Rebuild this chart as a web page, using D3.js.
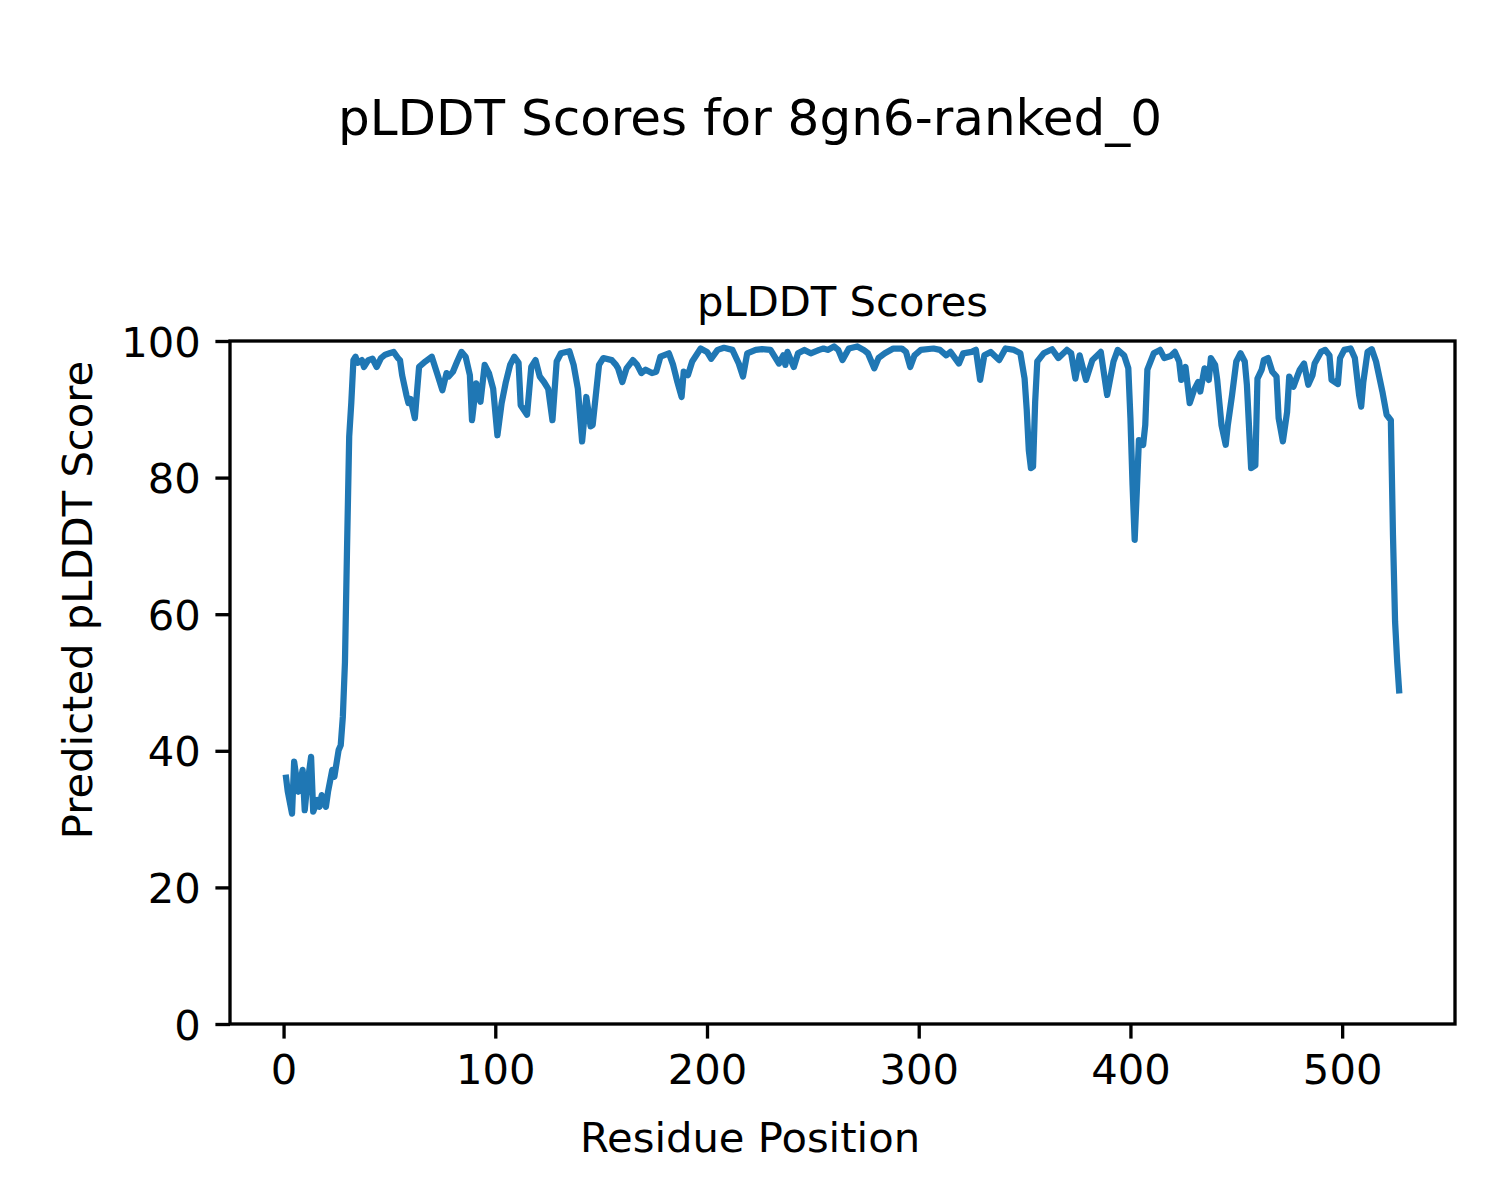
<!DOCTYPE html>
<html><head><meta charset="utf-8">
<script src="https://cdn.jsdelivr.net/npm/d3@7"></script>
<style>body{margin:0;background:#fff}svg{display:block}text{font-family:"DejaVu Sans",sans-serif;fill:#000}</style>
</head><body>
<script>
const residues = [1,2,4,5,7,9,10,11,13,14,16,17,18,20,21,23,24,26,27,28,29,30,31,32,33,34,35,37,38,40,42,44,46,48,50,52,54,55,56,58,59,60,62,64,67,70,73,75,77,78,80,82,84,86,88,89,91,93,95,97,99,101,103,105,107,109,111,112,115,117,119,121,123,125,127,129,131,135,137,139,141,143,145,146,149,151,155,157,158,160,162,165,167,169,171,174,176,178,182,184,186,188,189,191,193,197,200,202,205,208,212,215,217,219,223,226,230,234,236,237,238,241,243,246,249,253,255,257,260,262,264,267,271,274,276,279,281,284,288,292,294,296,298,301,307,310,313,315,319,321,325,327,329,331,334,338,341,345,348,350,351,352,353,354,355,356,359,363,366,370,372,374,376,379,382,386,389,392,394,397,399,400,401,402,403,404,406,407,408,411,414,416,419,421,423,424,426,428,430,432,433,435,437,438,440,441,443,445,446,448,450,452,454,455,457,459,460,462,463,465,467,469,470,472,474,475,477,479,480,482,484,486,487,490,492,494,495,498,499,501,504,506,508,509,510,512,514,516,519,521,523,524,525,526,527];
const scores = [36.5,34,30.8,38.4,34,37.2,31.3,34.5,39.1,31.1,32.8,31.8,33.5,31.8,34,37.2,36.2,40.1,40.8,45,53,70,86,91,97.2,97.7,96.8,97.2,96.2,97.2,97.4,96.2,97.5,98,98.2,98.4,97.5,97.2,95,92.1,90.9,91.5,88.7,96.2,97,97.7,94.8,92.8,95.3,94.8,95.5,97,98.4,97.7,95,88.4,93.8,91.1,96.5,95.3,93,86.2,90.9,94,96.5,97.7,96.8,90.6,89.2,96.2,97.2,94.8,94,93,88.4,97,98.2,98.5,96.5,93,85.3,91.8,87.5,87.7,96.5,97.5,97.2,96.5,96,94,96,97.2,96.5,95.3,95.8,95.3,95.5,97.7,98.2,96.5,94,91.8,95.5,95,97,98.9,98.4,97.4,98.7,99,98.7,96.7,94.8,98.2,98.7,98.8,98.7,96.7,97.9,96.5,98.4,96.2,98.2,98.7,98.2,98.7,98.9,98.7,99.2,98.7,97.2,98.9,99.2,98.7,98.2,96,97.5,98.2,98.9,98.9,98.4,96.2,97.9,98.7,98.9,98.7,97.9,98.4,96.7,98.2,98.4,98.7,94.3,97.9,98.4,97.2,98.9,98.7,98.2,94.5,90,84,81.4,81.6,91.1,97,98.2,98.8,97.5,98.7,98.2,94.5,97.9,94.3,97.2,98.4,92.1,97,98.7,97.9,96,88.7,78.9,70.9,77.9,85.5,84.8,87.7,95.8,98.2,98.7,97.5,97.8,98.4,97,94.3,96.2,90.9,92.8,94,92.6,96,94.3,97.5,96.5,94.3,87.7,84.8,87.7,92.1,97,98.2,97,93.6,81.4,81.8,94.5,95.8,97.2,97.5,95.5,94.8,88.7,85.3,89.6,94.8,93.3,95,95.8,96.7,93.6,95,96.7,98.4,98.7,97.9,94.3,93.7,97.5,98.7,98.9,97.5,92.1,90.4,94,98.4,98.8,97,92.6,89.2,88.4,71.6,58.9,53,48.4];
const xTicks = [0,100,200,300,400,500];
const yTicks = [0,20,40,60,80,100];
const figTitle = "pLDDT Scores for 8gn6-ranked_0";
const axTitle = "pLDDT Scores";
const xLabel = "Residue Position";
const yLabel = "Predicted pLDDT Score";

const W = 1500, H = 1200;
const L = 230, R = 1455, T = 341, B = 1024;
const svg = d3.select("body").append("svg").attr("width", W).attr("height", H);

const xmin = d3.min(residues), xmax = d3.max(residues), pad = 0.05 * (xmax - xmin);
const x = d3.scaleLinear().domain([xmin - pad, xmax + pad]).range([L, R]);
const y = d3.scaleLinear().domain([0, 100]).range([B, T]);

const data = residues.map((r, i) => ({r, s: scores[i]}));
svg.append("path").datum(data)
  .attr("fill", "none").attr("stroke", "#1f77b4").attr("stroke-width", 6.25)
  .attr("stroke-linejoin", "round").attr("stroke-linecap", "butt")
  .attr("d", d3.line().x(d => x(d.r)).y(d => y(d.s)));

const fs = 41.7;
const xAxis = svg.append("g").attr("transform", `translate(0,${B})`)
  .call(d3.axisBottom(x).tickValues(xTicks).tickSize(14.6).tickPadding(14.6).tickFormat(d3.format("d")));
const yAxis = svg.append("g").attr("transform", `translate(${L},0)`)
  .call(d3.axisLeft(y).tickValues(yTicks).tickSize(14.6).tickPadding(14.6).tickFormat(d3.format("d")));
[xAxis, yAxis].forEach(g => {
  g.select(".domain").remove();
  g.selectAll(".tick line").attr("stroke", "#000").attr("stroke-width", 3.33);
  g.selectAll(".tick text").attr("font-size", fs).attr("font-family", "DejaVu Sans").attr("fill", "#000");
});
xAxis.selectAll(".tick text").attr("dy", null).attr("dominant-baseline", null).attr("y", 14.6 + 14.6 + 30.4);
yAxis.selectAll(".tick text").attr("dy", "0.36em");

svg.append("rect").attr("x", L).attr("y", T).attr("width", R - L).attr("height", B - T)
  .attr("fill", "none").attr("stroke", "#000").attr("stroke-width", 3.33);

svg.append("text").attr("x", W / 2).attr("y", 135).attr("text-anchor", "middle").attr("font-size", 50).text(figTitle);
svg.append("text").attr("x", (L + R) / 2).attr("y", 316).attr("text-anchor", "middle").attr("font-size", fs).text(axTitle);
svg.append("text").attr("x", W / 2).attr("y", 1152).attr("text-anchor", "middle").attr("font-size", fs).text(xLabel);
svg.append("text").attr("transform", `translate(92,${H / 2}) rotate(-90)`).attr("text-anchor", "middle").attr("font-size", fs).text(yLabel);
</script>
</body></html>
